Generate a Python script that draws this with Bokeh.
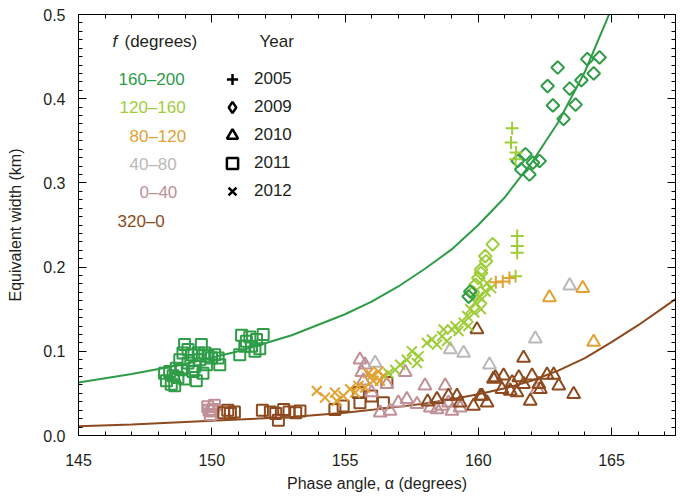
import numpy as np
from bokeh.plotting import figure
from bokeh.models import (FixedTicker, LinearAxis, Range1d, Label, Legend,
                          LegendItem, PrintfTickFormatter, CustomJSTickFormatter)
from bokeh.embed import file_html
from bokeh.resources import INLINE

# ---------------- data ----------------
f_bins = ["160–200", "120–160", "80–120", "40–80", "0–40", "320–0"]
f_colors = ["#2f9c47", "#9fcd3a", "#e1a232", "#b9b9b9", "#bf9096", "#8c4a1e"]
years = ["2005", "2009", "2010", "2011", "2012"]

# model curves
green_curve_x = [145, 147, 149, 151, 153, 155, 156, 157, 158, 159, 160, 161, 162, 163, 164, 165, 165.5]
green_curve_y = [0.063, 0.073, 0.085, 0.100, 0.119, 0.144, 0.159, 0.177, 0.198, 0.221, 0.250, 0.283, 0.324, 0.372, 0.432, 0.507, 0.551]
brown_curve_x = [145, 147, 149, 151, 153, 155, 157, 158, 159, 160, 161, 162, 163, 164, 165, 166, 167, 167.4]
brown_curve_y = [0.011, 0.013, 0.016, 0.019, 0.022, 0.027, 0.034, 0.038, 0.043, 0.049, 0.056, 0.065, 0.077, 0.092, 0.111, 0.131, 0.153, 0.162]

# 2011 squares
sq_green_x = [148.23, 148.30, 148.48, 148.61, 148.42, 148.73, 148.86, 148.98, 148.80, 148.92, 148.98, 149.11,
              149.24, 149.36, 149.42, 149.30, 149.55, 149.61, 149.74, 149.86, 149.80, 149.99, 150.11, 150.24,
              150.30, 149.11, 148.67, 148.55, 149.67, 149.49,
              151.12, 151.43, 151.68, 151.93, 151.24, 151.49, 151.80, 151.05, 151.62, 151.30]
sq_green_y = [0.074, 0.065, 0.061, 0.059, 0.076, 0.069, 0.078, 0.067, 0.090, 0.098, 0.108, 0.102,
              0.096, 0.082, 0.065, 0.076, 0.090, 0.108, 0.098, 0.094, 0.084, 0.092, 0.096, 0.092,
              0.084, 0.086, 0.080, 0.071, 0.074, 0.098,
              0.119, 0.117, 0.114, 0.120, 0.106, 0.106, 0.103, 0.096, 0.100, 0.112]
sq_pink_x = [149.85, 150.00, 150.10, 149.95, 150.05, 149.90]
sq_pink_y = [0.034, 0.029, 0.036, 0.025, 0.031, 0.030]
sq_brown_x = [150.45, 150.60, 150.70, 150.85, 151.90, 152.20, 152.40, 152.50, 152.70, 152.90, 153.15,
              153.31, 154.62, 154.93, 155.50, 155.56, 156.00, 156.57, 156.44]
sq_brown_y = [0.027, 0.030, 0.026, 0.028, 0.030, 0.028, 0.026, 0.018, 0.031, 0.028, 0.027,
              0.029, 0.031, 0.035, 0.051, 0.039, 0.047, 0.063, 0.039]

# 2012 crosses
x_orange_x = [153.94, 154.25, 154.62, 154.69, 154.94, 155.19, 155.38, 155.50, 155.75, 155.88, 156.00,
              156.25, 156.44, 156.06, 156.31]
x_orange_y = [0.053, 0.045, 0.051, 0.041, 0.047, 0.055, 0.051, 0.059, 0.057, 0.074, 0.071,
              0.076, 0.071, 0.065, 0.065]
x_lime_x = [156.63, 156.88, 157.07, 157.32, 157.51, 157.70, 157.76, 158.07, 158.26, 158.45, 158.64,
            158.82, 159.01, 159.14, 159.26, 159.45, 159.58, 159.70, 159.89, 160.02, 160.14, 160.27,
            160.33, 159.85, 160.10, 159.63, 158.70, 160.48]
x_lime_y = [0.074, 0.078, 0.084, 0.090, 0.100, 0.086, 0.094, 0.110, 0.114, 0.108, 0.118,
            0.112, 0.126, 0.130, 0.124, 0.134, 0.142, 0.150, 0.158, 0.165, 0.162, 0.171,
            0.181, 0.146, 0.150, 0.130, 0.126, 0.175]

# 2009 diamonds
d_lime_x = [160.54, 160.29, 160.10, 159.90, 160.00, 160.10, 160.26, 159.80]
d_lime_y = [0.227, 0.207, 0.197, 0.179, 0.187, 0.193, 0.213, 0.170]
d_green_x = [159.70, 159.64, 161.77, 161.48, 161.61, 161.92, 162.05, 162.30, 162.98, 162.60, 162.80,
             163.20, 163.43, 163.65, 163.87, 164.09, 164.33, 164.55]
d_green_y = [0.171, 0.165, 0.334, 0.326, 0.316, 0.310, 0.324, 0.326, 0.437, 0.415, 0.392,
             0.376, 0.412, 0.393, 0.422, 0.447, 0.430, 0.449]

# 2005 plus signs
p_lime_x = [161.27, 161.23, 161.42, 161.40, 161.46, 161.46, 161.46, 161.40]
p_lime_y = [0.365, 0.348, 0.336, 0.328, 0.237, 0.225, 0.217, 0.189]
p_orange_x = [160.66, 160.92, 161.17]
p_orange_y = [0.182, 0.183, 0.187]

# 2010 triangles
t_brown_x = [160.64, 160.95, 161.27, 161.52, 161.70, 162.02, 162.27, 162.58, 162.83, 163.02, 160.89,
             161.20, 161.45, 161.95, 162.33, 163.58, 160.33, 160.08, 161.70, 159.95, 160.57, 160.14,
             159.82, 158.45, 158.88, 159.20, 159.32, 158.10]
t_brown_y = [0.069, 0.071, 0.063, 0.069, 0.061, 0.071, 0.061, 0.072, 0.072, 0.059, 0.055,
             0.053, 0.051, 0.041, 0.055, 0.049, 0.039, 0.047, 0.092, 0.126, 0.067, 0.047,
             0.035, 0.043, 0.047, 0.047, 0.039, 0.040]
t_pink_x = [155.56, 155.75, 155.63, 155.69, 156.00, 156.57, 156.32, 156.69, 157.00, 157.32, 157.26,
            158.00, 158.20, 158.45, 158.76, 159.01, 159.32, 157.70, 158.64, 158.88, 162.21]
t_pink_y = [0.090, 0.084, 0.075, 0.065, 0.051, 0.061, 0.027, 0.029, 0.039, 0.043, 0.075,
            0.059, 0.033, 0.031, 0.059, 0.029, 0.033, 0.037, 0.035, 0.039, 0.055]
t_gray_x = [163.43, 162.14, 160.42, 156.13, 158.95, 159.45]
t_gray_y = [0.178, 0.115, 0.084, 0.086, 0.102, 0.098]
t_orange_x = [162.67, 163.92, 164.33]
t_orange_y = [0.164, 0.175, 0.111]

x_ticks = [145, 150, 155, 160, 165]
y_ticks = [0.0, 0.1, 0.2, 0.3, 0.4, 0.5]

# ---------------- figure ----------------
GREEN, LIME, ORANGE, GRAY, PINK, BROWN = f_colors
FONT = "Liberation Sans"
TXT = "#231f20"

p = figure(width=678, height=497, output_backend="svg", toolbar_location=None,
           x_range=Range1d(145, 167.4), y_range=Range1d(0, 0.5),
           min_border_left=78, min_border_right=3, min_border_top=14, min_border_bottom=62,
           x_axis_label="Phase angle, α (degrees)", y_axis_label="Equivalent width (km)")
p.grid.visible = False
p.outline_line_color = "black"
p.background_fill_color = "white"
p.border_fill_color = "white"

xt = FixedTicker(ticks=x_ticks, minor_ticks=list(range(145, 168)))
yt = FixedTicker(ticks=y_ticks, minor_ticks=[i / 100 for i in range(0, 51)])


def style_axis(ax, ticker, show_labels):
    ax.ticker = ticker
    ax.axis_line_color = "black"
    ax.major_tick_line_color = "black"
    ax.minor_tick_line_color = "black"
    ax.major_tick_in = 8
    ax.major_tick_out = 0
    ax.minor_tick_in = 4
    ax.minor_tick_out = 0
    ax.major_label_text_font = FONT
    ax.major_label_text_color = TXT
    ax.major_label_text_font_size = "16px"
    ax.axis_label_text_font = FONT
    ax.axis_label_text_font_style = "normal"
    ax.axis_label_text_color = TXT
    ax.axis_label_text_font_size = "16px"
    if not show_labels:
        ax.formatter = CustomJSTickFormatter(code="return ''")
        ax.major_label_standoff = 0


style_axis(p.xaxis[0], xt, True)
style_axis(p.yaxis[0], yt, True)
p.yaxis[0].formatter = PrintfTickFormatter(format="%.1f")
p.xaxis[0].major_label_standoff = 18
p.xaxis[0].axis_label_standoff = 6
p.yaxis[0].major_label_standoff = 13
p.yaxis[0].axis_label_standoff = 16

top_ax = LinearAxis()
style_axis(top_ax, xt, False)
p.add_layout(top_ax, "above")
right_ax = LinearAxis()
style_axis(right_ax, yt, False)
p.add_layout(right_ax, "right")

# curves
p.line(green_curve_x, green_curve_y, line_color=GREEN, line_width=2)
p.line(brown_curve_x, brown_curve_y, line_color=BROWN, line_width=2)

LW = 2


def squares(x, y, c):
    p.scatter(x, y, marker="square", size=11, line_color=c, fill_color=None, line_width=LW)


def crosses(x, y, c):
    p.scatter(x, y, marker="x", size=14, line_color=c, line_width=LW)


def diamonds(x, y, c):
    p.scatter(x, y, marker="square", angle=np.pi / 4, size=9, line_color=c, fill_color=None, line_width=LW)


def pluses(x, y, c):
    p.scatter(x, y, marker="cross", size=13, line_color=c, line_width=LW)


def triangles(x, y, c):
    p.scatter(x, y, marker="triangle", size=13, line_color=c, fill_color=None, line_width=LW)


squares(sq_green_x, sq_green_y, GREEN)
squares(sq_pink_x, sq_pink_y, PINK)
squares(sq_brown_x, sq_brown_y, BROWN)
triangles(t_pink_x, t_pink_y, PINK)
triangles(t_gray_x, t_gray_y, GRAY)
triangles(t_brown_x, t_brown_y, BROWN)
triangles(t_orange_x, t_orange_y, ORANGE)
crosses(x_orange_x, x_orange_y, ORANGE)
crosses(x_lime_x, x_lime_y, LIME)
diamonds(d_lime_x, d_lime_y, LIME)
diamonds(d_green_x, d_green_y, GREEN)
pluses(p_lime_x, p_lime_y, LIME)
pluses(p_orange_x, p_orange_y, ORANGE)

# ---------------- legend ----------------
LEG_FS = "17px"
p.add_layout(Label(x=34, y=394, x_units="screen", y_units="screen", text="f",
                   text_font=FONT, text_font_style="italic", text_font_size=LEG_FS,
                   text_color=TXT, text_baseline="middle"))
p.add_layout(Label(x=46, y=394, x_units="screen", y_units="screen", text="(degrees)",
                   text_font=FONT, text_font_size=LEG_FS, text_color=TXT, text_baseline="middle"))
p.add_layout(Label(x=181, y=394, x_units="screen", y_units="screen", text="Year",
                   text_font=FONT, text_font_size=LEG_FS, text_color=TXT, text_baseline="middle"))

cat_sx = [40, 41, 51, 51, 61, 39]
cat_sy = [356, 328, 299, 271, 243, 214]
for name, col, sx, sy in zip(f_bins, f_colors, cat_sx, cat_sy):
    p.add_layout(Label(x=sx, y=sy, x_units="screen", y_units="screen", text=name,
                       text_font=FONT, text_font_size=LEG_FS, text_color=col,
                       text_baseline="middle"))

year_markers = ["cross", "diamond", "triangle", "square", "x"]
items = []
for yr, mk in zip(years, year_markers):
    r = p.scatter(x=[float("nan")], y=[float("nan")], marker=mk,
                  line_color="black", fill_color=None, line_width=2.5)
    items.append(LegendItem(label=yr, renderers=[r]))
leg = Legend(items=items, location=(140, 230), padding=0, margin=0, spacing=0,
             glyph_width=28, glyph_height=28, label_height=28, label_standoff=8,
             label_text_font=FONT, label_text_font_size=LEG_FS, label_text_color=TXT,
             border_line_color=None, background_fill_alpha=0)
p.add_layout(leg)

open("out.html", "w").write(file_html(p, INLINE))
